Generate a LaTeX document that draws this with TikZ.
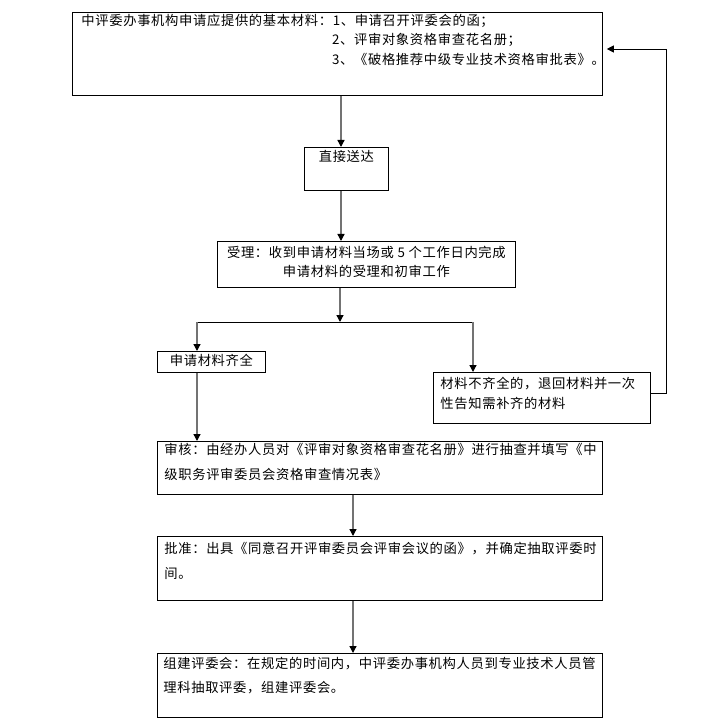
\documentclass[tikz,border=0pt]{standalone}
\usepackage{fontspec}
\setmainfont{Noto Sans CJK SC}[LetterSpace=5]
\usetikzlibrary{arrows.meta}
\newcommand\bxt[6]{\parbox[c][#2][t]{#1}{\fontsize{13.3pt}{#4}\selectfont\parindent=0pt #5\rule{0pt}{#3}#6\par}}
\newcommand\lpad[1]{\leftskip=#1\rightskip=0pt plus 1fil\relax}
\newcommand\prefixtxt{中评委办事机构申请应提供的基本材料：}
\begin{document}
\begin{tikzpicture}[x=1pt,y=-1pt,
  flowbox/.style={draw=black,line width=0.8pt,inner sep=0pt,anchor=north west,fill=white},
  arr/.style={draw=black!55,line width=1.3pt,-{Triangle[width=7pt,length=7pt,color=black]}},
  plain/.style={draw=black,line width=0.8pt}]
\fill[white] (0,0) rectangle (723,722);
\useasboundingbox (0,0) rectangle (723,722);

\node[flowbox] (top) at (72,12) {\bxt{530pt}{83pt}{13pt}{19.5pt}{\lpad{9pt}}{\prefixtxt 1、申请召开评委会的函；\\
\phantom{\prefixtxt}2、评审对象资格审查花名册；\\
\phantom{\prefixtxt}3、《破格推荐中级专业技术资格审批表》。}};

\node[flowbox] (zhijie) at (304,147) {\bxt{84pt}{43pt}{14pt}{19.5pt}{\centering}{直接送达}};

\node[flowbox] (shouli) at (217,241) {\bxt{298pt}{46pt}{16pt}{19.5pt}{\centering}{受理：收到申请材料当场或 5 个工作日内完成\\申请材料的受理和初审工作}};

\node[flowbox] (qiquan) at (157,351) {\bxt{108pt}{21pt}{14pt}{19.5pt}{\centering}{申请材料齐全}};

\node[flowbox] (buqi) at (433,372) {\bxt{217pt}{51pt}{16pt}{20pt}{\lpad{7pt}}{材料不齐全的，退回材料并一次\\性告知需补齐的材料}};

\node[flowbox] (shenhe) at (157,441) {\bxt{445pt}{53pt}{13pt}{25.5pt}{\lpad{7pt}}{审核：由经办人员对《评审对象资格审查花名册》进行抽查并填写《中\\级职务评审委员会资格审查情况表》}};

\node[flowbox] (pizhun) at (157,536) {\bxt{445pt}{64pt}{17pt}{25pt}{\lpad{7pt}}{批准：出具《同意召开评审委员会评审会议的函》，并确定抽取评委时\\间。}};

\node[flowbox] (zujian) at (157,653) {\bxt{445pt}{64pt}{15pt}{24.5pt}{\lpad{6pt}}{组建评委会：在规定的时间内，中评委办事机构人员到专业技术人员管\\理科抽取评委，组建评委会。}};

\coordinate (xa) at (341,0);
\coordinate (xb) at (340,0);
\coordinate (L) at (197,322);
\coordinate (R) at (473,322);
\coordinate (xc) at (353,0);
\coordinate (fb1) at (666,393);
\coordinate (fb2) at (666,49);

\draw[arr] (top.south -| xa) -- (zhijie.north -| xa);
\draw[arr] (zhijie.south -| xa) -- (shouli.north -| xa);
\draw[arr] (shouli.south -| xb) -- (L -| xb);
\draw[plain] (L) -- (R);
\draw[arr] (L) -- (qiquan.north -| L);
\draw[arr] (R) -- (buqi.north -| R);
\draw[arr] (qiquan.south -| L) -- (shenhe.north -| L);
\draw[arr] (shenhe.south -| xc) -- (pizhun.north -| xc);
\draw[arr] (pizhun.south -| xc) -- (zujian.north -| xc);
\draw[plain,-{Triangle[width=7pt,length=7pt]},shorten >=4pt] (buqi.east |- fb1) -- (fb1) -- (fb2) -- (top.east |- fb2);
\end{tikzpicture}
\end{document}
